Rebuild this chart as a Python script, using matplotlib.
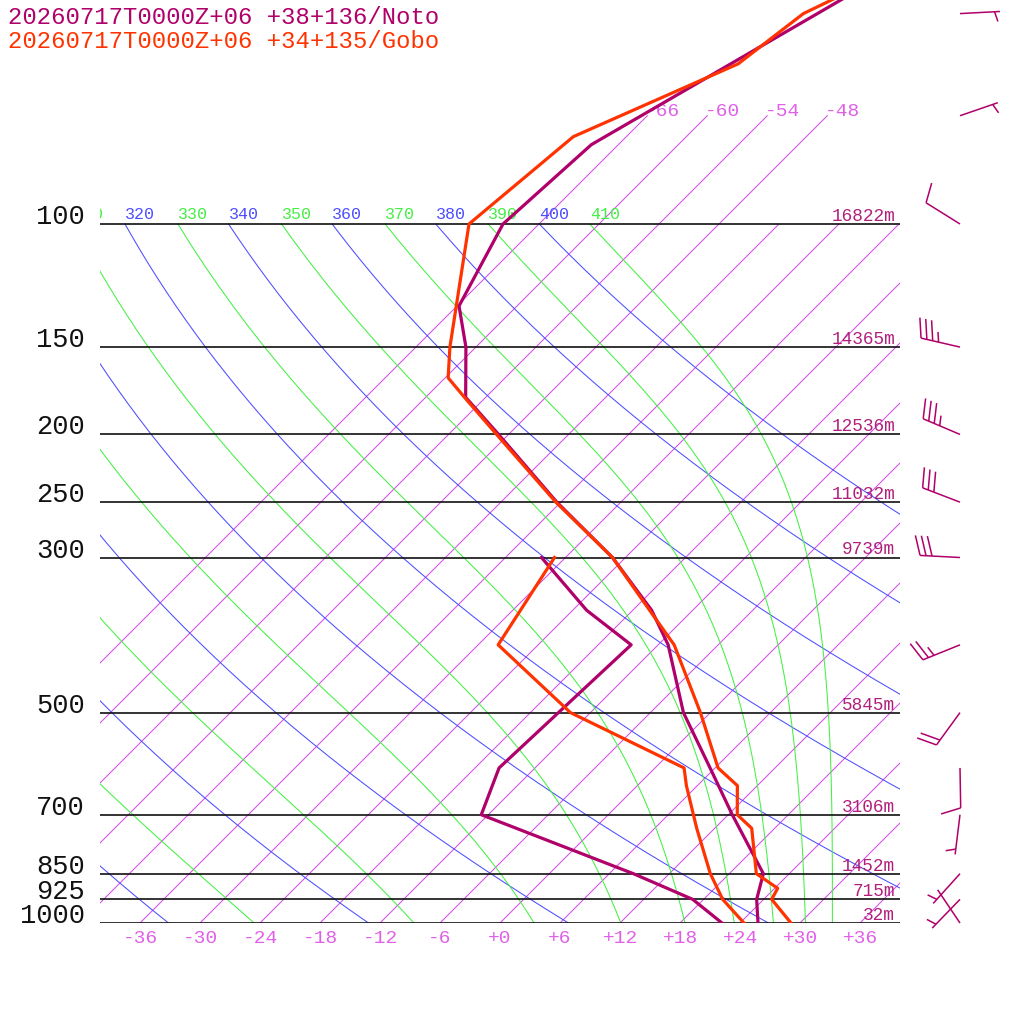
import numpy as np
import matplotlib
matplotlib.use("Agg")
import matplotlib.pyplot as plt
from matplotlib.transforms import offset_copy, blended_transform_factory

plt.rcParams['font.family'] = ['Liberation Mono', 'DejaVu Sans Mono']

# ---------------- data ----------------
TITLE_NOTO = "20260717T0000Z+06 +38+136/Noto"
TITLE_GOBO = "20260717T0000Z+06 +34+135/Gobo"

P_LEVELS = [100, 150, 200, 250, 300, 500, 700, 850, 925, 1000]
P_LABELS = ["100", "150", "200", "250", "300", "500", "700", "850", "925", "1000"]
HEIGHTS = ["16822m", "14365m", "12536m", "11032m", "9739m", "5845m",
           "3106m", "1452m", "715m", "32m"]
T_TICKS = [-36, -30, -24, -18, -12, -6, 0, 6, 12, 18, 24, 30, 36]
T_TICK_LABELS = ["-36", "-30", "-24", "-18", "-12", "-6", "+0", "+6",
                 "+12", "+18", "+24", "+30", "+36"]
ISOTHERMS = [-66, -60, -54, -48, -42, -36, -30, -24, -18, -12, -6, 0,
             6, 12, 18, 24, 30, 36]
ISOTHERMS_HIGH = [-66, -60, -54, -48]          # continue up to 70 hPa, labelled
THETA = [240, 260, 280, 300, 320, 340, 360, 380, 400]        # dry adiabats (K)
THETA_E = [250, 270, 290, 310, 330, 350, 370, 390, 410]      # moist adiabats (K)

# Noto (purple)
noto_p_t = [1000, 925, 850, 700, 600, 500, 400, 357, 300, 250, 200, 177,
            150, 131, 100, 77, 50, 30]
noto_t = [25.8, 23.3, 21.4, 12.4, 5.5, -2.7, -11.0, -16.1, -25.3, -36.4,
          -49.0, -56.0, -61.0, -65.8, -69.6, -68.7, -59.2, -48.0]
noto_p_td = [1000, 925, 850, 700, 600, 400, 357, 300]
noto_td = [22.2, 16.9, 8.4, -12.7, -15.6, -14.7, -22.6, -32.4]

# Gobo (orange-red)
gobo_p_t = [1000, 925, 892, 850, 732, 700, 636, 600, 500, 400, 364, 300,
            250, 200, 178, 166, 150, 100, 75, 59, 50, 30]
gobo_t = [29.1, 24.8, 24.3, 20.7, 15.7, 12.9, 10.0, 6.3, -1.0, -10.4,
          -15.3, -25.3, -36.5, -49.2, -55.8, -59.7, -62.6, -73.0, -71.3,
          -62.1, -60.6, -44.0]
gobo_p_td = [1000, 925, 850, 732, 636, 600, 500, 400, 300]
gobo_td = [24.4, 19.9, 16.1, 10.2, 4.9, 2.9, -14.0, -28.0, -31.1]

# Noto winds
wind_p = [50, 70, 100, 150, 200, 250, 300, 400, 500, 600, 700, 850, 925, 1000]
wind_dir = [87, 71, 302, 283, 293, 291, 273, 248, 216, 179, 187, 222, 224, 326]
wind_kt = [5, 5, 10, 35, 35, 30, 30, 25, 20, 10, 5, 5, 5, 2]

# ---------------- styling ----------------
NOTO_C = '#b0006a'
GOBO_C = '#ff3300'
ISO_C = '#d24ee6'
ISO_LABEL_C = '#e060e8'
DRY_C = '#4d4dff'
MOIST_C = '#44f044'
HEIGHT_C = '#b0207a'

W = H = 1024
SKEW = 69.9            # deg C per decade of pressure -> 45 degree isotherms
P_TOP = 1000.0 * 10 ** (-923.0 / 699.0)


def sx(t, p):
    return np.asarray(t, dtype=float) + SKEW * np.log10(1000.0 / np.asarray(p, dtype=float))


def theta_e_sat(tk, p):
    tc = tk - 273.15
    es = 6.112 * np.exp(17.67 * tc / (tc + 243.5))
    r = 622.0 * es / np.maximum(p - es, 1e-3)
    r = np.minimum(r, 2000.0)
    return tk * (1000.0 / p) ** (0.2854 * (1 - 0.28e-3 * r)) * \
        np.exp(np.minimum((3.376 / tk - 0.00254) * r * (1 + 0.81e-3 * r), 50))


def moist_t(the, p):
    lo = np.full_like(p, 120.0)
    hi = np.full_like(p, 330.0)
    for _ in range(60):
        mid = 0.5 * (lo + hi)
        f = theta_e_sat(mid, p) - the
        hi = np.where(f > 0, mid, hi)
        lo = np.where(f > 0, lo, mid)
    return 0.5 * (lo + hi) - 273.15


fig = plt.figure(figsize=(10.24, 10.24), dpi=100)
ax = fig.add_axes([100 / W, (H - 923) / H, 800 / W, 923 / H])
ax.set_yscale('log')
ax.set_ylim(1000, P_TOP)
ax.set_xlim(-40, 40)
ax.set_xticks([])
ax.set_yticks([])
ax.minorticks_off()
for s in ax.spines.values():
    s.set_visible(False)

# isotherms
for t in ISOTHERMS:
    ptop = 70 if t in ISOTHERMS_HIGH else 100
    pp = np.array([1000.0, ptop])
    ax.plot(sx([t, t], pp), pp, color=ISO_C, lw=0.75, zorder=1)
lab_tr = offset_copy(ax.transData, fig=fig, x=-1.5, y=-0.5, units='points')
for t in ISOTHERMS_HIGH:
    ax.text(sx(t, 70), 70, f"{t}", transform=lab_tr, ha='left', va='baseline',
            color=ISO_LABEL_C, fontsize=14, clip_on=False)

# adiabats
pp = np.logspace(3, 2, 300)
ad_tr = offset_copy(ax.transData, fig=fig, x=0, y=3.6, units='points')


def adiabat_label(x100, txt, col):
    # only labels that reach into the diagram are drawn (clipped at its edge)
    if x100 > -43.2:
        ax.text(x100, 100, txt, transform=ad_tr, ha='left', va='baseline',
                color=col, fontsize=12, clip_on=True)


for th in THETA:
    tt = th * (pp / 1000.0) ** 0.2857 - 273.15
    ax.plot(sx(tt, pp), pp, color=DRY_C, lw=0.75, zorder=1)
    adiabat_label(float(sx(tt[-1], 100)), f"{th}", DRY_C)
with np.errstate(all='ignore'):
    for the in THETA_E:
        tt = moist_t(the, pp)
        ax.plot(sx(tt, pp), pp, color=MOIST_C, lw=0.75, zorder=1)
        adiabat_label(float(sx(tt[-1], 100)), f"{the}", MOIST_C)

# pressure lines
ax.hlines(P_LEVELS, -40, 40, colors='#111111', lw=1.2, zorder=2)

# labels: pressure (left), heights (right), temperature (bottom)
tr_left = blended_transform_factory(ax.transAxes, ax.transData)
tr_h = offset_copy(tr_left, fig=fig, x=0, y=2.2, units='points')
for p, lab, hgt in zip(P_LEVELS, P_LABELS, HEIGHTS):
    ax.text(-15 / 800, p, lab, transform=tr_left, ha='right', va='baseline',
            fontsize=19.5, color='#111111', clip_on=False)
    ax.text(795 / 800, p, hgt, transform=tr_h, ha='right', va='baseline',
            fontsize=12.8, color=HEIGHT_C, clip_on=False, zorder=6)
tr_bot = blended_transform_factory(ax.transData, ax.transAxes)
for t, lab in zip(T_TICKS, T_TICK_LABELS):
    ax.text(t, -20 / 923, lab, transform=tr_bot, ha='center', va='baseline',
            fontsize=14, color=ISO_LABEL_C, clip_on=False)

# profiles
ax.plot(sx(noto_td, noto_p_td), noto_p_td, color=NOTO_C, lw=2.3, zorder=4)
ax.plot(sx(noto_t, noto_p_t), noto_p_t, color=NOTO_C, lw=2.3, zorder=4)
ax.plot(sx(gobo_td, gobo_p_td), gobo_p_td, color=GOBO_C, lw=2.3, zorder=5)
ax.plot(sx(gobo_t, gobo_p_t), gobo_p_t, color=GOBO_C, lw=2.3, zorder=5)

# titles
fig.text(8 / W, 1 - 24 / H, TITLE_NOTO, color=NOTO_C, fontsize=17.2, va='baseline')
fig.text(8 / W, 1 - 48 / H, TITLE_GOBO, color=GOBO_C, fontsize=17.2, va='baseline')

# wind barbs (drawn in pixel space, positioned with the pressure scale)
bax = fig.add_axes([0, 0, 1, 1], zorder=6)
bax.set_xlim(0, W)
bax.set_ylim(0, H)
bax.axis('off')
L, SP, BA, BP = 40.0, 6.0, 5.7, 19.7
for p, d, spd in zip(wind_p, wind_dir, wind_kt):
    x0 = 960.0
    y0 = ax.transData.transform((0, p))[1]
    hx, hy = np.sin(np.radians(d)), np.cos(np.radians(d))
    rx, ry = hy, -hx
    tx, ty = x0 + L * hx, y0 + L * hy
    kw = dict(color=NOTO_C, lw=1.1, solid_capstyle='butt')
    bax.plot([x0, tx], [y0, ty], **kw)
    nfull = int(spd // 10)
    half = (spd % 10) >= 5
    pos = 0.0
    for k in range(nfull):
        bx, by = tx - pos * hx, ty - pos * hy
        bax.plot([bx, bx + BA * hx + BP * rx], [by, by + BA * hy + BP * ry], **kw)
        pos += SP
    if half:
        if nfull == 0:
            pos = SP * 0.9
        bx, by = tx - pos * hx, ty - pos * hy
        bax.plot([bx, bx + 0.5 * (BA * hx + BP * rx)],
                 [by, by + 0.5 * (BA * hy + BP * ry)], **kw)

fig.savefig("out.png", dpi=100)
